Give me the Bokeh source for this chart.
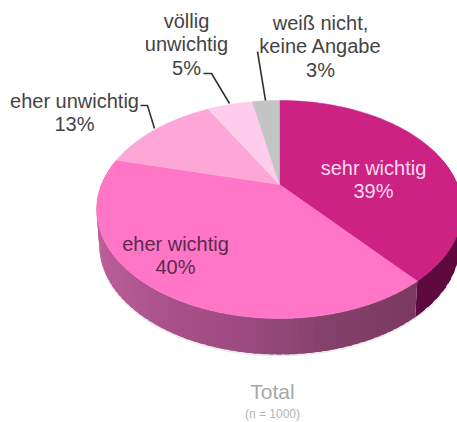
from bokeh.plotting import figure
from bokeh.embed import file_html
from bokeh.resources import INLINE
from bokeh.core.properties import value
import math

categories = ["sehr wichtig", "eher wichtig", "eher unwichtig", "völlig unwichtig", "weiß nicht, keine Angabe"]
shares = [39, 40, 13, 5, 3]
top_colors = ["#cc2283", "#ff76c6", "#ffa6d8", "#ffcdec", "#c3c5c4"]
side_stops = ["#bc5e9a", "#a85088", "#9a4a7e", "#82406a", "#7c3a62"]
side_dark = "#5e0a3e"

F = "Liberation Sans"
CX, CY, RX, RY, K = 279, 184, 178, 103.3, 0.229
DEPTH = 36

def rim(frac, depth=0.0):
    t = 2 * math.pi * frac
    up, right = math.cos(t), math.sin(t)
    w = 1 + K * up
    x = CX + RX * right / w
    y = CY - RY * up / w
    if depth:
        x = CX + (x - CX) * 0.985
        y = y + depth
    return x, y

p = figure(width=457, height=422, x_range=(0, 457), y_range=(422, 0),
           output_backend="svg", toolbar_location=None, min_border=0,
           outline_line_color=None, background_fill_color="white", border_fill_color="white")
p.axis.visible = False
p.grid.visible = False

# soft shadow under the rim
lo, hi = 0.25, 0.75
fr = [lo + (hi - lo) * i / 120 for i in range(121)]
sx = [rim(f, DEPTH + 2)[0] for f in fr]
sy = [rim(f, DEPTH + 2)[1] for f in fr]
p.patch(sx + sx[::-1], sy + [y - 6 for y in sy[::-1]], fill_color="#dddddd", fill_alpha=0.6, line_color=None)

cum = [sum(shares[:i]) / 100 for i in range(len(shares) + 1)]
start, end = 0.21, 0.79

def wall(a, b, col):
    ta, tb = rim(a), rim(b)
    ba, bb = rim(a, DEPTH), rim(b, DEPTH)
    p.patch([ta[0], tb[0], bb[0], ba[0]], [ta[1], tb[1], bb[1], ba[1]], fill_color=col, line_color=None)

# dark wall of the first slice
M = 16
for i in range(M):
    wall(start + (cum[1] - start) * i / M, min(start + (cum[1] - start) * (i + 1.6) / M, cum[1]), side_dark)

# shaded wall of the second slice, painted back to front so neighbours overlap
N = 70
for i in range(N):
    a = cum[1] + (end - cum[1]) * i / N
    b = min(cum[1] + (end - cum[1]) * (i + 1.6) / N, end)
    u = (rim(a)[0] - 96) / (416 - 96)
    u = min(max(u, 0), 0.999) * (len(side_stops) - 1)
    j = int(u)
    c0, c1 = side_stops[j], side_stops[j + 1]
    f = u - j
    col = "#" + "".join(
        f"{round(int(c0[k:k+2],16)*(1-f)+int(c1[k:k+2],16)*f):02x}" for k in (1, 3, 5))
    wall(a, b, col)

# top face
for i, c in enumerate(top_colors):
    n = max(4, int(shares[i] * 2))
    pts = [rim(cum[i] + (cum[i + 1] - cum[i]) * j / n) for j in range(n + 1)]
    p.patch([CX] + [q[0] for q in pts], [CY] + [q[1] for q in pts],
            fill_color=c, line_color=c, line_width=0.5)

def label(x, y, lines, color, size="20px", lh=23.5):
    for i, t in enumerate(lines):
        p.text([x], [y + i * lh], text=[t], text_font=value(F), text_font_size=size,
               text_color=color, text_align="center", text_baseline="middle")

label(186, 20, ["völlig", "unwichtig", f"{shares[3]}%"], "#444444")
label(320, 22, ["weiß nicht,", "keine Angabe", f"{shares[4]}%"], "#444444")
label(74, 100, ["eher unwichtig", f"{shares[2]}%"], "#444444")
label(373, 167, ["sehr wichtig", f"{shares[0]}%"], "#ffd9ee")
label(175, 243, ["eher wichtig", f"{shares[1]}%"], "#5c2a50")
label(272, 391, ["Total"], "#a8a8a8", size="21px")
label(272, 413, ["(n = 1000)"], "#b4b4b4", size="12px")

# leader lines
for xs, ys in [([140, 147, 154], [105, 105, 128]),
               ([203, 211, 229], [73, 73, 103]),
               ([257, 265], [51, 100])]:
    p.line(xs, ys, line_color="#333333", line_width=1.6)

html = file_html(p, INLINE)
open("out.html", "w").write(html)
